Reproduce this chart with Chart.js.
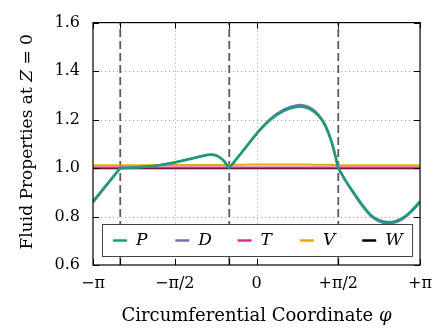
<!DOCTYPE html>
<html>
<head>
<meta charset="utf-8">
<script src="https://cdn.jsdelivr.net/npm/chart.js@4"></script>
<style>
  body { margin: 0; background: #fff; }
  canvas { display: block; }
</style>
</head>
<body>
<canvas id="chart" width="441" height="329"></canvas>
<script>
// phi in multiples of pi
const phi = [-1, -0.917, -0.833, -0.75, -0.667, -0.583, -0.5, -0.417, -0.333, -0.279, -0.25, -0.208, -0.167,
  -0.083, 0, 0.083, 0.167, 0.25, 0.3, 0.34, 0.38, 0.42, 0.46, 0.5,
  0.55, 0.6, 0.65, 0.7, 0.75, 0.8, 0.85, 0.9, 0.95, 1];

const P = [0.863, 0.931, 1.0, 1.002, 1.006, 1.013, 1.023, 1.036, 1.049, 1.055, 1.052, 1.035, 1.0,
  1.070, 1.140, 1.198, 1.236, 1.253, 1.250, 1.238, 1.215, 1.175, 1.105, 1.0,
  0.943, 0.893, 0.845, 0.806, 0.785, 0.777, 0.781, 0.797, 0.826, 0.863];
const D = [0.858, 0.929, 1.0, 1.002, 1.006, 1.013, 1.023, 1.036, 1.050, 1.056, 1.053, 1.036, 1.0,
  1.071, 1.142, 1.202, 1.241, 1.259, 1.256, 1.243, 1.219, 1.178, 1.107, 1.0,
  0.941, 0.890, 0.841, 0.802, 0.780, 0.772, 0.776, 0.793, 0.822, 0.858];
const T = [1.002, 1.002, 1.002, 1.002, 1.002, 1.002, 1.002, 1.002, 1.002, 1.002, 1.002, 1.002, 1.002,
  1.002, 1.002, 1.002, 1.002, 1.002, 1.002, 1.002, 1.002, 1.002, 1.002, 1.002,
  1.002, 1.002, 1.002, 1.002, 1.002, 1.002, 1.002, 1.002, 1.002, 1.002];
const V = [1.012, 1.012, 1.012, 1.012, 1.012, 1.013, 1.013, 1.013, 1.013, 1.013, 1.013, 1.013, 1.013,
  1.014, 1.015, 1.015, 1.015, 1.015, 1.015, 1.014, 1.014, 1.014, 1.013, 1.012,
  1.012, 1.012, 1.012, 1.012, 1.012, 1.012, 1.012, 1.012, 1.012, 1.012];
const W = [0.999, 0.999, 0.999, 0.999, 0.999, 0.999, 0.999, 0.999, 0.999, 0.999, 0.999, 0.999, 0.999,
  0.999, 0.999, 0.999, 0.999, 0.999, 0.999, 0.999, 0.999, 0.999, 0.999, 0.999,
  0.999, 0.999, 0.999, 0.999, 0.999, 0.999, 0.999, 0.999, 0.999, 0.999];

// vertical dashed separators (multiples of pi)
const breaks = [-5 / 6, -1 / 6, 1 / 2];

const xTicks = [-1, -5 / 6, -0.5, -1 / 6, 0, 0.5, 1];
const xTickLabels = { '-1': '\u2212\u03c0', '-0.5': '\u2212\u03c0/2', '0': '0', '0.5': '+\u03c0/2', '1': '+\u03c0' };
const yTicks = [0.6, 0.8, 1.0, 1.2, 1.4, 1.6];

const seriesNames = ['P', 'D', 'T', 'V', 'W'];
const seriesValues = [P, D, T, V, W];
const colors = ['#1b9e77', '#7570b3', '#e7298a', '#e6ab02', '#000000'];

const serif = '"DejaVu Serif", serif';

// split a series at the break positions so the kinks stay sharp
function segments(values) {
  const segs = [];
  let cur = [];
  phi.forEach((f, i) => {
    cur.push({ x: f * Math.PI, y: values[i] });
    if (breaks.some(b => Math.abs(b - f) < 0.002) && cur.length > 1) {
      segs.push(cur);
      cur = [{ x: f * Math.PI, y: values[i] }];
    }
  });
  if (cur.length > 1) segs.push(cur);
  return segs;
}

const datasets = [];
seriesValues.forEach((vals, s) => {
  segments(vals).forEach(seg => {
    datasets.push({
      data: seg,
      borderColor: colors[s],
      borderWidth: s < 2 ? 2.5 : 2,
      pointRadius: 0,
      tension: 0.4,
      fill: false
    });
  });
});
breaks.forEach(b => {
  datasets.push({
    data: [{ x: b * Math.PI, y: yTicks[0] }, { x: b * Math.PI, y: yTicks[yTicks.length - 1] }],
    borderColor: '#5a5a5a',
    borderWidth: 1.8,
    borderDash: [8, 4],
    pointRadius: 0
  });
});

const frame = {
  id: 'frame',
  beforeDatasetsDraw(chart) {
    const { ctx, chartArea: a, scales: { x, y } } = chart;
    ctx.save();
    ctx.strokeStyle = '#9a9a9a';
    ctx.lineWidth = 1;
    ctx.setLineDash([1, 3]);
    xTicks.forEach(t => {
      if (t <= -1 || t >= 1 || breaks.some(b => Math.abs(b - t) < 1e-6)) return;
      const px = Math.round(x.getPixelForValue(t * Math.PI)) + 0.5;
      ctx.beginPath(); ctx.moveTo(px, a.top); ctx.lineTo(px, a.bottom); ctx.stroke();
    });
    yTicks.slice(1, -1).forEach(t => {
      const py = Math.round(y.getPixelForValue(t)) + 0.5;
      ctx.beginPath(); ctx.moveTo(a.left, py); ctx.lineTo(a.right, py); ctx.stroke();
    });
    ctx.restore();
  },
  afterDatasetsDraw(chart) {
    const { ctx, chartArea: a, scales: { x, y } } = chart;
    ctx.save();
    // legend box
    const bx = a.left + 9, by = a.bottom - 41, bw = a.right - a.left - 17, bh = 32;
    ctx.fillStyle = '#fff';
    ctx.fillRect(bx, by, bw, bh);
    ctx.strokeStyle = '#444';
    ctx.lineWidth = 1;
    ctx.strokeRect(Math.round(bx) + 0.5, Math.round(by) + 0.5, bw, bh);
    ctx.font = 'italic 17px ' + serif;
    ctx.textBaseline = 'middle';
    ctx.textAlign = 'left';
    seriesNames.forEach((n, i) => {
      const lx = bx + 11 + i * 62.3, ly = by + bh / 2 + 0.5;
      ctx.strokeStyle = colors[i];
      ctx.lineWidth = 2.5;
      ctx.beginPath(); ctx.moveTo(lx, ly); ctx.lineTo(lx + 14, ly); ctx.stroke();
      ctx.fillStyle = '#000';
      ctx.fillText(n, lx + 23, ly);
    });
    // frame and inward ticks
    ctx.strokeStyle = '#000';
    ctx.lineWidth = 1.2;
    ctx.strokeRect(a.left, a.top, a.right - a.left, a.bottom - a.top);
    ctx.lineWidth = 1;
    xTicks.forEach(t => {
      const px = Math.round(x.getPixelForValue(t * Math.PI)) + 0.5;
      ctx.beginPath();
      ctx.moveTo(px, a.bottom); ctx.lineTo(px, a.bottom - 6);
      ctx.moveTo(px, a.top); ctx.lineTo(px, a.top + 6);
      ctx.stroke();
    });
    yTicks.forEach(t => {
      const py = Math.round(y.getPixelForValue(t)) + 0.5;
      ctx.beginPath();
      ctx.moveTo(a.left, py); ctx.lineTo(a.left + 6, py);
      ctx.moveTo(a.right, py); ctx.lineTo(a.right - 6, py);
      ctx.stroke();
    });
    // axis titles with italic symbols
    ctx.fillStyle = '#000';
    ctx.textBaseline = 'alphabetic';
    drawMixed(ctx, [['Circumferential Coordinate ', ''], ['\u03c6', 'italic ']], (a.left + a.right) / 2, 321, 18);
    ctx.translate(32, (a.top + a.bottom) / 2 - 2);
    ctx.rotate(-Math.PI / 2);
    drawMixed(ctx, [['Fluid Properties at ', ''], ['Z', 'italic '], [' = 0', '']], 0, 0, 17);
    ctx.restore();
  }
};

function drawMixed(ctx, parts, cx, baseY, size) {
  let total = 0;
  parts.forEach(p => { ctx.font = p[1] + size + 'px ' + serif; total += ctx.measureText(p[0]).width; });
  let px = cx - total / 2;
  ctx.textAlign = 'left';
  parts.forEach(p => {
    ctx.font = p[1] + size + 'px ' + serif;
    ctx.fillText(p[0], px, baseY);
    px += ctx.measureText(p[0]).width;
  });
}

new Chart(document.getElementById('chart').getContext('2d'), {
  type: 'line',
  data: { datasets: datasets },
  options: {
    responsive: false,
    animation: false,
    layout: { padding: { top: 18, right: 20, left: 0, bottom: 0 } },
    plugins: { legend: { display: false }, tooltip: { enabled: false } },
    scales: {
      x: {
        type: 'linear',
        min: -Math.PI,
        max: Math.PI,
        afterBuildTicks: s => { s.ticks = xTicks.map(v => ({ value: v * Math.PI })); },
        afterFit: s => { s.height = 64; },
        grid: { display: false, drawTicks: false },
        border: { display: false },
        ticks: {
          autoSkip: false,
          maxRotation: 0,
          padding: 9,
          color: '#000',
          font: { family: serif, size: 16 },
          callback: v => {
            const k = String(Math.round(v / Math.PI * 1000) / 1000);
            return xTickLabels[k] !== undefined ? xTickLabels[k] : '';
          }
        }
      },
      y: {
        min: yTicks[0],
        max: yTicks[yTicks.length - 1],
        afterBuildTicks: s => { s.ticks = yTicks.map(v => ({ value: v })); },
        afterFit: s => { s.width = 93; },
        grid: { display: false, drawTicks: false },
        border: { display: false },
        ticks: {
          padding: 13,
          color: '#000',
          font: { family: serif, size: 16 },
          callback: v => v.toFixed(1)
        }
      }
    }
  },
  plugins: [frame]
});
</script>
</body>
</html>
